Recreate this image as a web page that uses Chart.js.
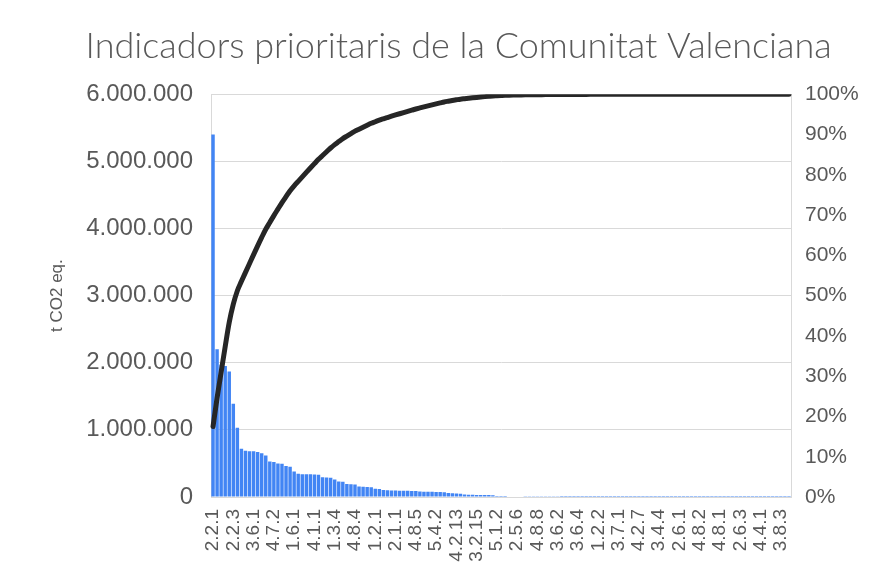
<!DOCTYPE html>
<html>
<head>
<meta charset="utf-8">
<script src="https://cdn.jsdelivr.net/npm/chart.js@4.4.1/dist/chart.umd.min.js"></script>
<style>
  body { margin: 0; background: #fff; }
  #wrap { width: 888px; height: 586px; }
</style>
</head>
<body>
<div id="wrap"><canvas id="chart" width="888" height="586"></canvas></div>
<script>
// emissions per indicator, sorted (t CO2 eq.)
const emissions = [
    5400000, 2200000, 1970000, 1950000, 1870000, 1390000, 1030000, 720000, 690000, 680000,
    680000, 670000, 650000, 620000, 530000, 520000, 500000, 495000, 460000, 450000,
    380000, 345000, 340000, 340000, 338000, 335000, 330000, 295000, 290000, 285000,
    260000, 232000, 228000, 195000, 190000, 185000, 155000, 152000, 150000, 145000,
    122000, 118000, 105000, 100000, 98000, 96000, 94000, 93000, 92000, 90000,
    88000, 82000, 80000, 79000, 78000, 76000, 74000, 72000, 58000, 55000,
    53000, 50000, 36000, 34000, 33000, 31000, 30000, 29000, 28000, 26000,
    16000, 15000, 14000, 9000, 8500, 8000, 7500, 5000, 4600, 4200,
    3800, 3500, 3200, 2400, 2200, 2000, 1800, 1600, 1400, 1300,
    1200, 1100, 1000, 950, 900, 850, 800, 750, 700, 660,
    620, 580, 540, 500, 470, 440, 410, 380, 350, 330,
    310, 290, 270, 250, 235, 220, 205, 190, 175, 160,
    150, 140, 130, 120, 110, 100, 92, 85, 78, 71,
    65, 59, 53, 47, 42, 37, 32, 28, 24, 20,
    16, 13, 10
];

// only every 5th indicator code is shown on the axis
const tickLabels = [
    '2.2.1', '2.2.3', '3.6.1', '4.7.2', '1.6.1', '4.1.1', '1.3.4', '4.8.4', '1.2.1', '2.1.1',
    '4.8.5', '5.4.2', '4.2.13', '3.2.15', '5.1.2', '2.5.6', '4.8.8', '3.6.2', '3.6.4', '1.2.2',
    '3.7.1', '4.2.7', '3.4.4', '2.6.1', '4.8.2', '4.8.1', '2.6.3', '4.4.1', '3.8.3'
];
const labelStep = 5;

const leftTicks = [0, 1000000, 2000000, 3000000, 4000000, 5000000, 6000000];

const categories = emissions.map((v, i) => i % labelStep === 0 ? tickLabels[i / labelStep] : '');

// pareto line: cumulative share of the total
const total = emissions.reduce((a, b) => a + b, 0);
let running = 0;
const cumulative = emissions.map(v => { running += v; return running / total * 100; });

const grey = '#595959';
const gridGrey = '#d9d9d9';

const ctx = document.getElementById('chart').getContext('2d');
new Chart(ctx, {
    type: 'bar',
    data: {
        labels: categories,
        datasets: [
            {
                type: 'line',
                label: 'Acumulat',
                data: cumulative,
                borderColor: '#262626',
                borderWidth: 5,
                pointRadius: 0,
                tension: 0.4,
                cubicInterpolationMode: 'monotone',
                borderCapStyle: 'round',
                yAxisID: 'y1',
                order: 0
            },
            {
                label: 't CO2 eq.',
                data: emissions,
                backgroundColor: '#4285f4',
                barPercentage: 0.85,
                categoryPercentage: 1,
                yAxisID: 'y',
                order: 1
            }
        ]
    },
    options: {
        responsive: false,
        animation: false,
        layout: { padding: 0 },
        plugins: {
            legend: { display: false },
            tooltip: { enabled: false },
            title: {
                display: true,
                // leading spaces nudge the title right, as in the original
                text: '\u00a0\u00a0\u00a0Indicadors prioritaris de la Comunitat Valenciana',
                color: grey,
                font: { family: 'Lato', size: 36, weight: '300', lineHeight: 1.2 },
                padding: { top: 25, bottom: 26 }
            }
        },
        scales: {
            x: {
                grid: { display: false },
                border: { display: true, color: gridGrey },
                ticks: {
                    autoSkip: false,
                    maxRotation: 90,
                    minRotation: 90,
                    padding: 4,
                    color: grey,
                    font: { family: 'Liberation Sans', size: 19 },
                    callback: function (val, i) {
                        return categories[i] === '' ? null : categories[i];
                    }
                },
                afterFit: function (scale) { scale.height = 89; }
            },
            y: {
                type: 'linear',
                position: 'left',
                min: 0,
                max: 6000000,
                afterBuildTicks: function (scale) {
                    scale.ticks = leftTicks.map(v => ({ value: v }));
                },
                grid: { color: gridGrey, drawTicks: false },
                border: { display: true, color: gridGrey },
                ticks: {
                    padding: 18,
                    color: grey,
                    font: { family: 'Liberation Sans', size: 24 },
                    callback: v => v.toLocaleString('de-DE')
                },
                title: {
                    display: true,
                    text: 't CO2 eq.',
                    color: grey,
                    font: { family: 'Liberation Sans', size: 17 },
                    padding: { top: 47, bottom: 0 }
                },
                afterFit: function (scale) { scale.width = 211; }
            },
            y1: {
                type: 'linear',
                position: 'right',
                min: 0,
                max: 100,
                grid: { drawOnChartArea: false, drawTicks: false },
                border: { display: true, color: gridGrey },
                ticks: {
                    stepSize: 10,
                    padding: 14,
                    color: grey,
                    font: { family: 'Liberation Sans', size: 21 },
                    callback: v => v + '%'
                },
                afterFit: function (scale) { scale.width = 97; }
            }
        }
    }
});
</script>
</body>
</html>
